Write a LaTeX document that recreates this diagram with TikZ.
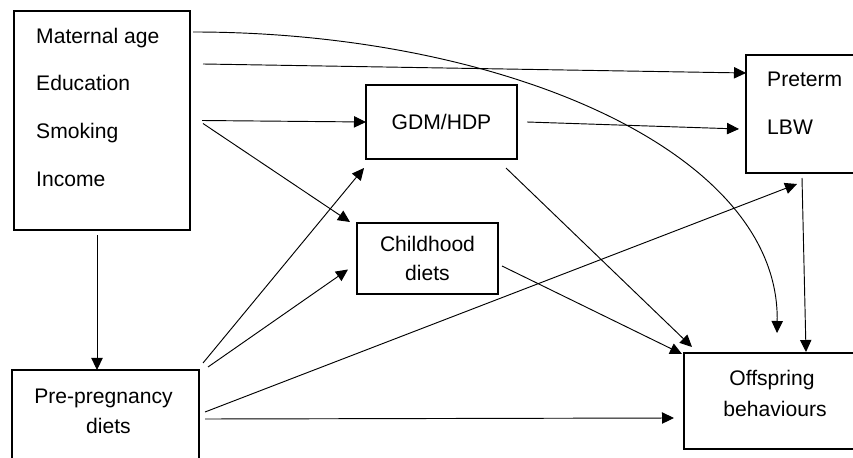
\documentclass[tikz,border=0pt]{standalone}
\usepackage{fontspec}
\setmainfont{Liberation Sans}
\usetikzlibrary{arrows.meta}

\tikzset{
	box/.style={draw, line width=1.4pt, inner sep=0pt, outer sep=0pt},
	txt/.style={inner sep=0pt, anchor=base west},
	ctxt/.style={inner sep=0pt, anchor=base},
	arr/.style={line width=0.8pt, -{Triangle[length=3.6mm,width=3.4mm]}},
}

\begin{document}
\begin{tikzpicture}[x=0.03cm, y=-0.03cm, font=\fontsize{18}{25.5}\selectfont]
		\useasboundingbox (0,0) rectangle (853,458);

		\draw (102,120.5) node (factors)[box, minimum width=5.28cm, minimum height=6.57cm]{};
		\draw (factors.north west) ++(22,33) node (age)[txt]{Maternal age};
		\draw (age.base west) ++(0,47) node (edu)[txt]{Education};
		\draw (edu.base west) ++(0,48) node (smoke)[txt]{Smoking};
		\draw (smoke.base west) ++(0,48) node (income)[txt]{Income};

		\draw (105.5,418) node (pre)[box, minimum width=5.61cm, minimum height=2.88cm]{};
		\draw (pre.north) ++(-2,33) node (pretxt)[ctxt]{Pre-pregnancy};
		\draw (pretxt.base) ++(5,30) node (prediets)[ctxt]{diets};

		\draw (441.5,122) node (gdm)[box, minimum width=4.53cm, minimum height=2.22cm]{GDM/HDP};
		\draw (427.5,258.5) node (child)[box, minimum width=4.23cm, minimum height=2.13cm, align=center]{Childhood\\diets};

		\draw (803,114) node (preterm)[box, minimum width=3.42cm, minimum height=3.54cm]{};
		\draw (preterm.north west) ++(21,32) node (ptb)[txt]{Preterm};
		\draw (ptb.base west) ++(0,48) node (lbw)[txt]{LBW};

		\draw (772,401) node (offspring)[box, minimum width=5.28cm, minimum height=2.88cm]{};
		\draw (offspring.north) ++(0,32) node (offtxt)[ctxt]{Offspring};
		\draw (offtxt.base) ++(3,31) node (behtxt)[ctxt]{behaviours};

		\path (factors.north east) ++(3,21) coordinate (ageout);
		\path (factors.north east) ++(13,53) coordinate (eduout);
		\path (factors.east) ++(12,0) coordinate (smokeout1);
		\path (factors.east) ++(13,3) coordinate (smokeout2);
		\path (factors.south) ++(-5,5) coordinate (factout);
		\path (gdm.east) ++(10,0) coordinate (gdmout1);
		\path (gdm.south east) ++(-11,9) coordinate (gdmout2);
		\path (gdm.south west) ++(-2,9) coordinate (gdmin);
		\path (child.north west) ++(-7,-1) coordinate (childin1);
		\path (child.west) ++(-9,11) coordinate (childin2);
		\path (child.east) ++(4,7.5) coordinate (childout);
		\path (pre.north east) ++(4,-7) coordinate (preout1);
		\path (pre.north east) ++(9,-3) coordinate (preout2);
		\path (pre.east) ++(6,-6) coordinate (preout3);
		\path (pre.east) ++(6,1) coordinate (preout4);
		\path (preterm.west) ++(0,-41) coordinate (ptbin);
		\path (preterm.west) ++(-7,15) coordinate (lbwin1);
		\path (preterm.south) ++(-6,11) coordinate (lbwin2);
		\path (preterm.south) ++(-1,5) coordinate (lbwout);
		\path (offspring.north) ++(5,-20) coordinate (offin0);
		\path (offspring.north west) ++(8,-6) coordinate (offin1);
		\path (offspring.north west) ++(-2,1) coordinate (offin2);
		\path (offspring.west) ++(-10,17) coordinate (offin3);
		\path (offspring.north) ++(34,-1) coordinate (offin4);

		\draw[arr] (ageout) .. controls +(307,0) and +(3,-183) .. (offin0);
		\draw[arr] (eduout)--(ptbin);
		\draw[arr] (smokeout1)--(gdm.west);
		\draw[arr] (smokeout2)--(childin1);
		\draw[arr] (factout)--(factout |- pre.north);
		\draw[arr] (gdmout1)--(lbwin1);
		\draw[arr] (gdmout2)--(offin1);
		\draw[arr] (childout)--(offin2);
		\draw[arr] (preout1)--(gdmin);
		\draw[arr] (preout2)--(childin2);
		\draw[arr] (preout3)--(lbwin2);
		\draw[arr] (preout4)--(offin3);
		\draw[arr] (lbwout)--(offin4);
	\end{tikzpicture}
\end{document}
